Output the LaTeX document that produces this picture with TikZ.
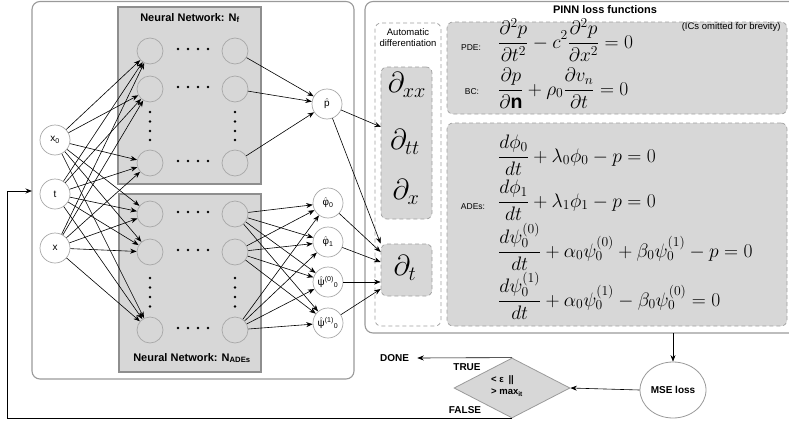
\RequirePackage{fix-cm}
\documentclass[tikz,border=0pt]{standalone}
\usepackage{fontspec}
\setmainfont{Liberation Sans}
\usetikzlibrary{arrows.meta,shapes.geometric,calc}

\definecolor{boxfill}{HTML}{D7D7D7}
\definecolor{boxline}{HTML}{8E8E8E}
\definecolor{panelline}{HTML}{9A9A9A}
\definecolor{nodeline}{HTML}{A8A8A8}
\definecolor{dashline}{HTML}{A0A0A0}

\newcommand\hatsym[1]{\ensuremath{\hat{\hbox{#1}}}}

\begin{document}
\begin{tikzpicture}[x=1pt,y=-1pt,
  panel/.style={draw=panelline,line width=1.1pt,rounded corners=8pt},
  netbox/.style={draw=boxline,fill=boxfill,line width=1.8pt,inner sep=0pt},
  neuron/.style={circle,draw=nodeline,line width=0.7pt,minimum size=26pt,inner sep=0pt},
  iocirc/.style={circle,draw=nodeline,fill=white,line width=0.7pt,minimum size=30pt,inner sep=0pt,font=\fontsize{10}{11}\selectfont},
  adbox/.style={draw=dashline,line width=0.7pt,dash pattern=on 4pt off 3pt,rounded corners=6pt,inner sep=0pt},
  eqbox/.style={adbox,fill=boxfill},
  arr/.style={-{Stealth[length=6.5pt,width=5pt]},line width=0.6pt,black},
  titlefont/.style={font=\fontsize{11}{13}\selectfont\bfseries},
  smalllab/.style={font=\fontsize{8.5}{10}\selectfont},
  flowlab/.style={font=\fontsize{10}{12}\selectfont\bfseries},
  eqn/.style={anchor=base west,inner sep=0pt,font=\fontsize{19.5}{22}\selectfont},
  bigd/.style={inner sep=0pt,font=\fontsize{29}{31}\selectfont},
  dotmark/.style={fill=black}
]
\path[use as bounding box,clip] (0,0) rectangle (789,423);

% ---------- outer panels ----------
\draw[panel] (32,1.5) rectangle (354,379);
\draw[panel] (365,1.5) rectangle (812,333);
\coordinate (netin) at (32,191);
\coordinate (lossout) at (673,333);

% ---------- the two networks ----------
\node[netbox,minimum width=143pt,minimum height=177pt] (netf) at (189.5,95.5) {};
\node[netbox,minimum width=142pt,minimum height=178pt] (neta) at (190,283) {};
\node[titlefont] (netftitle) at (190,18) {Neural Network: N\textsubscript{f}};
\node[titlefont] (netatitle) at (192,358) {Neural Network: N\textsubscript{ADEs}};

\node[neuron] (f11) at (150,51) {};
\node[neuron] (f12) at (150,89) {};
\node[neuron] (f13) at (150,163) {};
\node[neuron] (f21) at (235,51) {};
\node[neuron] (f22) at (235,89) {};
\node[neuron] (f23) at (235,163) {};

\node[neuron] (a11) at (150,214) {};
\node[neuron] (a12) at (150,252) {};
\node[neuron] (a13) at (150,330) {};
\node[neuron] (a21) at (235,214) {};
\node[neuron] (a22) at (235,252) {};
\node[neuron] (a23) at (235,330) {};

% ellipsis dots between the columns and rows
\foreach \y in {49,87,161,212,250,328}
  \foreach \x in {178,188,198,208}
    \fill[dotmark] (\x,\y) circle (1.3pt);
\foreach \y in {112,121.5,131,140,278,287.5,297,306.5}
  \foreach \x in {150,235}
    \fill[dotmark] (\x,\y) circle (1.3pt);

% ---------- inputs and outputs ----------
\node[iocirc] (in0) at (55,140) {x\textsubscript{0}};
\node[iocirc] (int) at (55,194) {t};
\node[iocirc] (inx) at (55,248) {x};

\node[iocirc] (ph) at (327,104) {\hatsym{p}};
\node[iocirc] (o0) at (328,203) {\hatsym{φ}\textsubscript{0}};
\node[iocirc] (o1) at (328,242) {\hatsym{φ}\textsubscript{1}};
\node[iocirc] (o2) at (328,282) {\hatsym{ψ}\textsuperscript{(0)}\textsubscript{0}};
\node[iocirc] (o3) at (328,323) {\hatsym{ψ}\textsuperscript{(1)}\textsubscript{0}};

\foreach \i in {in0,int,inx}
  \foreach \j in {f11,f12,f13,a11,a12,a13}
    \draw[arr] (\i) -- (\j);
\foreach \i in {f21,f22,f23}
  \draw[arr] (\i) -- (ph);
\foreach \i in {a21,a22,a23}
  \foreach \j in {o0,o1,o2,o3}
    \draw[arr] (\i) -- (\j);

% ---------- automatic differentiation ----------
\node[titlefont] (losstitle) at (605,10) {PINN loss functions};
\node[adbox,minimum width=66pt,minimum height=303pt] (adiff) at (408,174.5) {};
\node[font=\fontsize{9.5}{11}\selectfont,align=center] (adtitle) at (408,37.5) {Automatic\\differentiation};
\node[eqbox,minimum width=51pt,minimum height=152pt] (dx) at (406.5,143) {};
\node[eqbox,minimum width=51pt,minimum height=52pt] (dt) at (406.5,270) {};
\node[bigd] (dxx) at (407,85) {$\partial_{xx}$};
\node[bigd] (dtt) at (405,142) {$\partial_{tt}$};
\node[bigd] (dxs) at (406,192) {$\partial_{x}$};
\node[bigd] (dts) at (405,268) {$\partial_{t}$};
\coordinate (dxin) at (381,127);

\draw[arr] (ph) -- (dxin);
\draw[arr] (ph) -- (dt.north west);
\draw[arr] (o0) -- ([yshift=18pt]dt.west);
\draw[arr] (o1) -- ([yshift=8pt]dt.west);
\draw[arr] (o2) -- ([yshift=-12pt]dt.west);
\draw[arr] (o3) -- ([yshift=-19pt]dt.west);

% ---------- loss equations ----------
\node[eqbox,minimum width=340pt,minimum height=92pt] (pdebox) at (617,68) {};
\node[eqbox,minimum width=340pt,minimum height=203pt] (adebox) at (617,224.5) {};
\node[font=\fontsize{9.5}{11}\selectfont,anchor=east] (icnote) at (784,27) {(ICs omitted for brevity)};

\node[smalllab] (pdelab) at (471,48) {PDE:};
\node[smalllab] (bclab) at (472,92) {BC:};
\node[smalllab] (adelab) at (473,207) {ADEs:};

\node[eqn] (eqpde) at (498,48) {$\displaystyle \frac{\partial^2 p}{\partial t^2} - c^2\frac{\partial^2 p}{\partial x^2} = 0$};
\node[eqn] (eqbc) at (498,95) {$\displaystyle \frac{\partial p}{\partial \mathbf{n}} + \rho_0\frac{\partial v_n}{\partial t} = 0$};
\node[eqn] (eqa1) at (498,162) {$\displaystyle \frac{d\phi_0}{dt} + \lambda_0\phi_0 - p = 0$};
\node[eqn] (eqa2) at (498,207) {$\displaystyle \frac{d\phi_1}{dt} + \lambda_1\phi_1 - p = 0$};
\node[eqn] (eqa3) at (498,257) {$\displaystyle \frac{d\psi_0^{(0)}}{dt} + \alpha_0\psi_0^{(0)} + \beta_0\psi_0^{(1)} - p = 0$};
\node[eqn] (eqa4) at (498,306) {$\displaystyle \frac{d\psi_0^{(1)}}{dt} + \alpha_0\psi_0^{(1)} - \beta_0\psi_0^{(0)} = 0$};

% ---------- stopping test and training loop ----------
\node[ellipse,draw=panelline,fill=white,line width=0.8pt,minimum width=66pt,minimum height=56pt,inner sep=0pt] (mse) at (673,390) {};
\node[flowlab] (msetext) at (mse.center) {MSE loss};
\node[diamond,draw=panelline,fill=boxfill,line width=0.8pt,minimum width=116pt,minimum height=60pt,inner sep=0pt] (test) at (512,388) {};
\node[font=\fontsize{9.5}{12}\selectfont\bfseries,align=left] (testtext) at (507,386) {< ε\enspace ||\\> max\textsubscript{it}};
\node[flowlab,anchor=west,inner sep=0pt] (done) at (380,358) {DONE};
\node[flowlab] (truelab) at (467,367) {TRUE};
\node[flowlab] (falselab) at (465,410) {FALSE};
\coordinate (loopcorner) at (7,191);

\draw[arr] (lossout) -- (mse.north);
\draw[arr] (mse.west) -- (test.east);
\draw[arr] (test.north) -- ([xshift=8pt]done.east);
\draw[arr,line width=0.9pt] (test.south) -| (loopcorner) -- (netin);
\end{tikzpicture}
\end{document}
